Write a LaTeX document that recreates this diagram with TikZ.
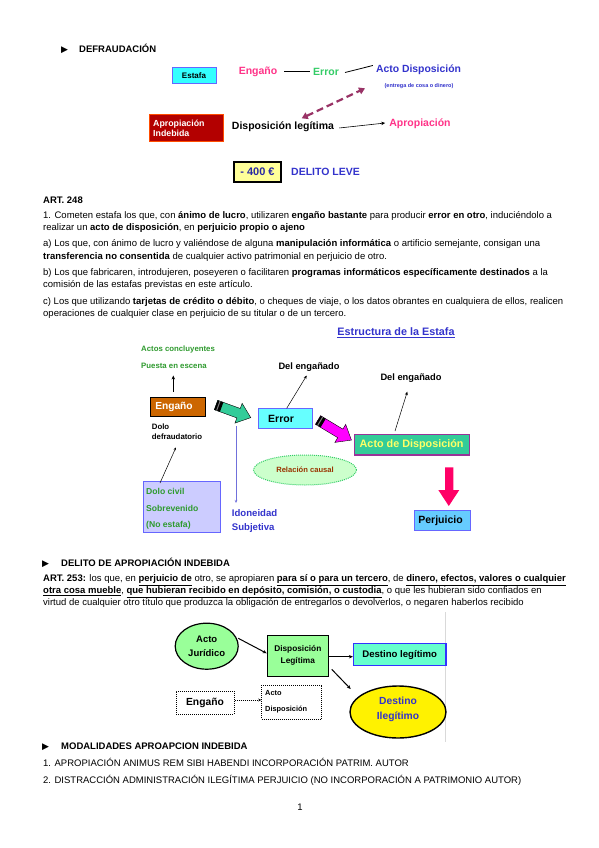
\documentclass[tikz,border=0pt]{standalone}
\usepackage{fontspec}
\setmainfont{Liberation Sans}
\newfontfamily\symf{DejaVu Sans}
\usetikzlibrary{shapes.geometric,arrows.meta}
\definecolor{pinkE}{HTML}{FF3388}
\definecolor{greenE}{HTML}{33CC66}
\definecolor{blueA}{HTML}{3333CC}
\definecolor{purpD}{HTML}{993366}
\definecolor{redbox}{HTML}{B30000}
\definecolor{cyanbox}{HTML}{33FFFF}
\definecolor{bluebd}{HTML}{6666FF}
\definecolor{yelbox}{HTML}{FFFF99}
\definecolor{greenT}{HTML}{2E9A2E}
\definecolor{orangebox}{HTML}{CC6600}
\definecolor{lavbox}{HTML}{CCCCFF}
\definecolor{tealA}{HTML}{33CC99}
\definecolor{errbox}{HTML}{66FFFF}
\definecolor{magA}{HTML}{FF00FF}
\definecolor{purpbd}{HTML}{993399}
\definecolor{yelT}{HTML}{FFFF66}
\definecolor{relfill}{HTML}{CCFFCC}
\definecolor{brownT}{HTML}{993300}
\definecolor{pinkA}{HTML}{FF0066}
\definecolor{perjbox}{HTML}{66CCFF}
\definecolor{lgreen}{HTML}{99FF99}
\definecolor{destbox}{HTML}{66FFCC}
\newcommand\fatarr[5]{%
  \begin{scope}[shift={(#1,#2)},rotate=#3]
    \filldraw[fill=#5,draw=black,line width=0.4pt] (0,-5) -- (#4-13,-5) -- (#4-13,-10.5) -- (#4,0) -- (#4-13,10.5) -- (#4-13,5) -- (0,5) -- cycle;
    \fill[black] (0,-5) rectangle (6,5);
    \fill[gray] (2,-5) rectangle (3,5);
  \end{scope}}
\begin{document}
\begin{tikzpicture}[x=1pt,y=-1pt,
  body/.style={anchor=base west,inner sep=0pt,font=\fontsize{9.5}{11}\selectfont},
  hdr/.style={anchor=base west,inner sep=0pt,font=\bfseries\fontsize{9.5}{11}\selectfont},
  bul/.style={anchor=base west,inner sep=0pt,font=\symf\fontsize{9}{10}\selectfont},
  lbl/.style={inner sep=0pt,font=\bfseries\fontsize{#1}{#1}\selectfont},
  lbl/.default=10,
  ml/.style={inner sep=0pt,align=left,font=\bfseries\fontsize{#1}{#1}\selectfont},
  thin/.style={draw=black,line width=0.6pt},
  arr/.style={-{Stealth[length=4pt,width=3.5pt]},line width=0.6pt},
]
\useasboundingbox (0,0) rectangle (599,848);
\fill[white] (0,0) rectangle (599,848);

% ---------------- DEFRAUDACION header
\node[bul] (b1) at (61,52.5) {▶};
\node[hdr] (h1) at (79,52.5) {DEFRAUDACIÓN};

% ---------------- top diagram
\node[draw=bluebd,fill=cyanbox,line width=1pt,minimum width=44pt,minimum height=16pt,inner sep=0pt,font=\bfseries\fontsize{8}{8}\selectfont] (estafa) at (194,76) {Estafa};
\node[lbl=10.5,text=pinkE] (eng) at (258,71.5) {Engaño};
\node[lbl=10.5,text=greenE] (err) at (326,71.5) {Error};
\node[lbl=10.4,text=blueA] (acto) at (418.5,70) {Acto Disposición};
\node[inner sep=0pt,text=blueA,font=\bfseries\fontsize{5.5}{6}\selectfont] (entrega) at (419,86) {(entrega de cosa o dinero)};
\draw[thin] ([xshift=7pt,yshift=0.5pt]eng.east) -- ([xshift=-3pt,yshift=0.5pt]err.west);
\draw[line width=0.8pt] ([xshift=6pt,yshift=-1pt]err.east) -- ([xshift=-3pt,yshift=4.5pt]acto.west);

\node[fill=redbox,draw=orange!60!red,line width=0.6pt,minimum width=74pt,minimum height=27pt,inner sep=0pt] (apind) at (186,127.5) {};
\node[ml=8.8,text=white,anchor=west] (apindt) at (153,128) {Apropiación\\[1.5pt]Indebida};
\node[lbl=10.5] (displeg) at (283,127) {Disposición legítima};
\node[lbl=10.5,text=pinkE] (aprop) at (420,124) {Apropiación};
\draw[arr] ([xshift=5pt,yshift=-1pt]displeg.east) -- ([xshift=-4pt,yshift=1pt]aprop.west);
\coordinate (dA) at (365,88.3);
\coordinate (dB) at (301.7,118.3);
\draw[purpD,line width=2.2pt,dash pattern=on 7pt off 4pt,{Triangle[length=6pt,width=7pt]}-{Triangle[length=6pt,width=7pt]}] (dB) -- (dA);

\node[draw=black,fill=yelbox,line width=1.2pt,minimum width=47pt,minimum height=20pt,inner sep=0pt,text=blueA!80!black,font=\bfseries\fontsize{11}{11}\selectfont] (mil) at (257.5,172) {- 400 €};
\node[lbl=10.5,text=blueA] (leve) at (325.5,171.7) {DELITO LEVE};

% ---------------- ART 248
\node[body,font=\bfseries\fontsize{9.5}{11}\selectfont] (art248) at (43,203.3) {ART. 248};
\node[body] (p1) at (43,218.3) {1. Cometen estafa los que, con \textbf{ánimo de lucro}, utilizaren \textbf{engaño bastante} para producir \textbf{error en otro}, induciéndolo a};
\node[body] (p2) at (43,230.6) {realizar un \textbf{acto de disposición}, en \textbf{perjuicio propio o ajeno}};
\node[body] (pa1) at (43,246.6) {a) Los que, con ánimo de lucro y valiéndose de alguna \textbf{manipulación informática} o artificio semejante, consigan una};
\node[body] (pa2) at (43,259) {\textbf{transferencia no consentida} de cualquier activo patrimonial en perjuicio de otro.};
\node[body] (pb1) at (43,275) {b) Los que fabricaren, introdujeren, poseyeren o facilitaren \textbf{programas informáticos específicamente destinados} a la};
\node[body] (pb2) at (43,287.6) {comisión de las estafas previstas en este artículo.};
\node[body] (pc1) at (43,304) {c) Los que utilizando \textbf{tarjetas de crédito o débito}, o cheques de viaje, o los datos obrantes en cualquiera de ellos, realicen};
\node[body] (pc2) at (43,316.3) {operaciones de cualquier clase en perjuicio de su titular o de un tercero.};

% ---------------- Estructura de la Estafa
\node[lbl=10.8,text=blueA] (titulo) at (396,332.7) {\underline{Estructura de la Estafa}};
\node[lbl=7.8,text=greenT,anchor=west] (actos) at (141,349) {Actos concluyentes};
\node[lbl=7.8,text=greenT,anchor=west] (puesta) at (141,365.7) {Puesta en escena};
\node[fill=orangebox,draw=black,line width=0.8pt,minimum width=55pt,minimum height=19.5pt,inner sep=0pt] (engbox) at (178,407) {};
\node[lbl=10.2,text=white] (engt) at (174,407) {Engaño};
\coordinate (upA) at (173.3,391.5);
\coordinate (upB) at (173.3,375.5);
\draw[arr,line width=0.9pt] (upA) -- (upB);
\node[ml=7.8,anchor=north west] (dolo) at (151.7,423.5) {Dolo\\[2.8pt]defraudatorio};

\node[fill=lavbox,draw=bluebd,line width=1pt,minimum width=77pt,minimum height=51pt,inner sep=0pt] (civil) at (182,507.2) {};
\node[ml=8.6,text=greenT,anchor=west] (civ1) at (146,491) {Dolo civil};
\node[ml=8.6,text=greenT,anchor=west] (civ2) at (146,508.3) {Sobrevenido};
\node[ml=8.6,text=greenT,anchor=west] (civ3) at (146,525) {(No estafa)};
\coordinate (doloA) at (160,483);
\coordinate (doloB) at (176,447.3);
\draw[-{Stealth[length=3pt,width=2.5pt]},line width=0.5pt] (doloA) -- (doloB);

\node[fill=errbox,draw=bluebd,line width=1pt,minimum width=54.5pt,minimum height=20pt,inner sep=0pt] (errbox) at (285.5,418.3) {};
\node[lbl=10.5] (errt) at (281,419) {Error};
\node[lbl=9.3] (del1) at (309,366.7) {Del engañado};
\coordinate (e1A) at (286.7,408.3);
\coordinate (e1B) at (306.7,375.5);
\draw[-{Stealth[length=3.5pt,width=3pt]},line width=0.5pt] (e1A) -- (e1B);
\node[lbl=9.3] (del2) at (411,378.3) {Del engañado};

\node[fill=tealA,draw=purpbd,line width=1.2pt,minimum width=115pt,minimum height=20.5pt,inner sep=0pt] (actobox) at (411.6,444.8) {};
\node[lbl=10.8,text=yelT] (actot) at (411.6,445) {Acto de Disposición};
\coordinate (e2A) at (395,431);
\coordinate (e2B) at (407.3,391.7);
\draw[-{Stealth[length=3.5pt,width=3pt]},line width=0.5pt] (e2A) -- (e2B);

\fatarr{216}{405}{-20}{37}{tealA}
\fatarr{318}{420}{-31}{39}{magA}

\coordinate (vA) at (236,426);
\coordinate (vB) at (236,503);
\draw[blueA!70!white,line width=0.9pt,-{Stealth[length=3pt,width=2.5pt]}] (vA) -- (vB);
\node[ml=9.6,text=blueA,anchor=north west] (idon) at (231.7,509) {Idoneidad\\[4.4pt]Subjetiva};

\node[ellipse,fill=relfill,draw=greenE,densely dotted,line width=1pt,minimum width=103pt,minimum height=30pt,inner sep=0pt] (rel) at (305,470) {};
\node[lbl=7.6,text=brownT] (relt) at (305,470) {Relación causal};

\fill[pinkA] (445,467.3) rectangle (453.3,490) (438.3,490) -- (459.3,490) -- (448.8,506) -- cycle;
\node[fill=perjbox,draw=bluebd,line width=1pt,minimum width=56pt,minimum height=20.5pt,inner sep=0pt] (perj) at (442.8,520.3) {};
\node[lbl=10.5] (perjt) at (440.5,520.5) {Perjuicio};

% ---------------- DELITO DE APROPIACION INDEBIDA
\node[bul] (b2) at (42,566.5) {▶};
\node[hdr] (h2) at (61,566.5) {DELITO DE APROPIACIÓN INDEBIDA};
\node[body] (q1) at (43,581.5) {\textbf{ART. 253:} los que, en \underline{\textbf{perjuicio de}} otro, se apropiaren \underline{\textbf{para sí o para un tercero}}, de \underline{\textbf{dinero, efectos, valores o cualquier}}};
\node[body] (q2) at (43,593.8) {\underline{\textbf{otra cosa mueble}}, \underline{\textbf{que hubieran recibido en depósito, comisión, o custodia}}, o que les hubieran sido confiados en};
\node[body] (q3) at (43,605.5) {virtud de cualquier otro título que produzca la obligación de entregarlos o devolverlos, o negaren haberlos recibido};

% ---------------- bottom diagram
\draw[black!15,line width=0.5pt] (445.5,612) -- (445.5,742);
\node[ellipse,fill=lgreen,draw=black,line width=1.2pt,minimum width=63pt,minimum height=46pt,inner sep=0pt,align=center,font=\bfseries\fontsize{9.5}{13.5}\selectfont] (jur) at (206.7,646.2) {Acto\\Jurídico};
\node[fill=lgreen,draw=black,line width=1pt,minimum width=61pt,minimum height=41pt,inner sep=0pt,align=center,font=\bfseries\fontsize{8.3}{11.5}\selectfont] (disp) at (297.8,655.5) {Disposición\\Legítima};
\node[fill=destbox,draw=blue!80!white,line width=1.1pt,minimum width=92.5pt,minimum height=22.5pt,inner sep=0pt,font=\bfseries\fontsize{9.6}{10}\selectfont] (dleg) at (399.7,654.5) {Destino legítimo};
\node[ellipse,fill=yellow,draw=black,line width=1.4pt,minimum width=96pt,minimum height=52pt,inner sep=0pt,align=center,text=blueA,font=\bfseries\fontsize{10.3}{15}\selectfont] (dileg) at (398,712) {};
\node[inner sep=0pt,align=center,text=blueA,font=\bfseries\fontsize{10.3}{15}\selectfont] (dilegt) at (398,709.5) {Destino\\Ilegítimo};
\draw[arr,line width=1pt] (238.3,638.3) coordinate (j1) -- (266.7,653.3) coordinate (j2);
\draw[arr,line width=1pt] (disp.east |- 0,656.7) -- (dleg.west |- 0,656.7);
\coordinate (k1) at (331.7,669.3);
\coordinate (k2) at (350.7,689);
\draw[arr,line width=1pt] (k1) -- (k2);
\node[draw=black,densely dotted,line width=1pt,minimum width=58pt,minimum height=23pt,inner sep=0pt,font=\bfseries\fontsize{10.3}{11}\selectfont] (engd) at (205,702.5) {Engaño};
\node[draw=black,densely dotted,line width=1pt,minimum width=60pt,minimum height=34pt,inner sep=0pt] (actod) at (291.7,702) {};
\node[lbl=7.4,anchor=west] (actod1) at (265,693.3) {Acto};
\node[lbl=7.4,anchor=west] (actod2) at (265,710) {Disposición};
\draw[densely dotted,line width=1pt,-{Stealth[length=3pt,width=3pt]}] (engd.east |- 0,700) -- (actod.west |- 0,700);

% ---------------- MODALIDADES
\node[bul] (b3) at (42,749.5) {▶};
\node[hdr] (h3) at (61,749.5) {MODALIDADES APROAPCION INDEBIDA};
\node[body] (m1) at (43,766) {1. APROPIACIÓN ANIMUS REM SIBI HABENDI INCORPORACIÓN PATRIM. AUTOR};
\node[body] (m2) at (43,783) {2. DISTRACCIÓN ADMINISTRACIÓN ILEGÍTIMA PERJUICIO (NO INCORPORACIÓN A PATRIMONIO AUTOR)};
\node[body,anchor=base] (pg) at (300,810) {1};
\end{tikzpicture}
\end{document}
